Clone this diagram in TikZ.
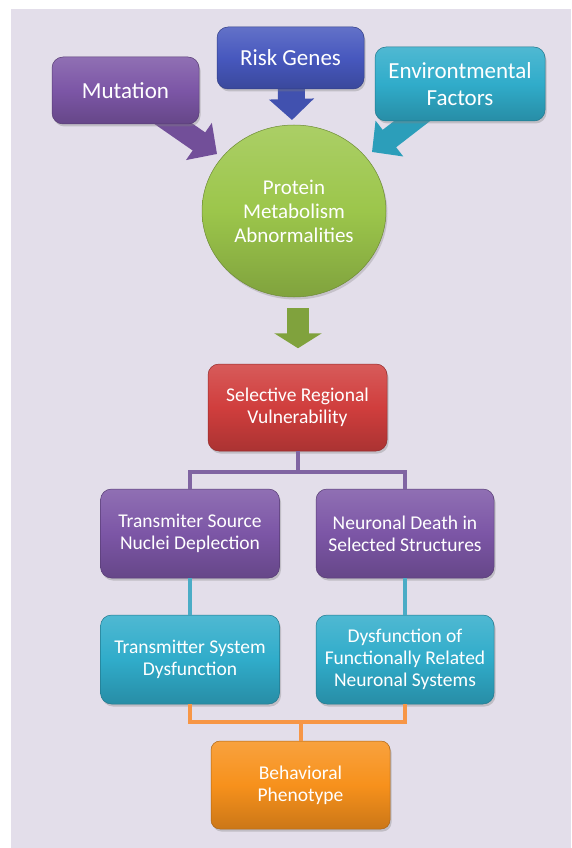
\documentclass[tikz,border=0pt]{standalone}
\usepackage{fontspec}
\setmainfont{Carlito}
\usetikzlibrary{shapes.geometric,arrows.meta,shadows,backgrounds}
\definecolor{bg}{HTML}{E3DEEA}
\definecolor{cpur}{HTML}{7C56A6}
\definecolor{cblue}{HTML}{4758BE}
\definecolor{ccyan}{HTML}{30ACCA}
\definecolor{cred}{HTML}{D03E3D}
\definecolor{cgreen}{HTML}{9CC64B}
\definecolor{corange}{HTML}{F7911C}
\definecolor{lpur}{HTML}{8064A2}
\definecolor{lcyan}{HTML}{4BACC6}
\definecolor{lorange}{HTML}{F79646}
\tikzset{
  glossy/.style={draw=#1!70!black, line width=0.5pt, top color=#1!85!white, bottom color=#1!82!black, middle color=#1},
  boxbase/.style={rectangle, rounded corners=11pt, align=center, text=white, inner sep=0pt,
    drop shadow={opacity=0.35, shadow xshift=1.5pt, shadow yshift=-2.5pt}},
  smallbox/.style={boxbase, glossy=#1, minimum width=179pt, minimum height=89pt,
    font=\fontsize{19.5pt}{22pt}\selectfont},
  topbox/.style={boxbase, glossy=#1, font=\fontsize{23pt}{27pt}\selectfont},
  fatarrow/.style={draw=#1, line width=22pt, -{Triangle[width=44pt,length=22pt]}},
  connector/.style={draw=#1, line width=4pt}
}
\begin{document}
\begin{tikzpicture}[x=1pt,y=-1pt]
\useasboundingbox (0,0) rectangle (571,848);
\begin{scope}[on background layer]
  \fill[bg] (11,9) rectangle (571,848);
\end{scope}

% top boxes
\node[topbox=cpur, minimum width=147pt, minimum height=67pt] (mut) at (125.5,90.5) {Mutation};
\node[topbox=cblue, minimum width=147pt, minimum height=62pt] (risk) at (290.5,58) {Risk Genes};
\node[topbox=ccyan, minimum width=170pt, minimum height=74pt] (env) at (460,84) {Environtmental\\Factors};

% central ellipse
\node[ellipse, glossy=cgreen, minimum width=184pt, minimum height=172pt, inner sep=0pt,
  align=center, text=white, font=\fontsize{21pt}{24pt}\selectfont,
  drop shadow={opacity=0.3, shadow xshift=1.5pt, shadow yshift=-2.5pt}] (circ) at (294,211)
  {Protein\\Metabolism\\Abnormalities};

\coordinate (mutT) at (217,154);
\coordinate (riskT) at (292,120);
\coordinate (envT) at (372,152);

\begin{scope}[on background layer]
  \draw[fatarrow=cpur!92!black] (mut.center) -- (mutT);
  \draw[draw=cblue!92!black, line width=27pt, -{Triangle[width=44pt,length=21pt]}] (risk.center) -- (riskT);
  \draw[fatarrow=ccyan!92!black] (env.center) -- (envT);
\end{scope}

% green arrow
\draw[draw=cgreen!82!black, line width=22pt, -{Triangle[width=47pt,length=15pt]}]
  ([xshift=4pt,yshift=-11pt]circ.south) -- ([xshift=4pt,yshift=-51pt]circ.south);

% lower boxes
\node[smallbox=cred, minimum height=87pt] (sel) at (297.5,407.5) {Selective Regional\\Vulnerability};
\node[smallbox=cpur] (tsn) at (190,533.5) {Transmiter Source\\Nuclei Deplection};
\node[smallbox=cpur, minimum width=178pt] (nds) at (405,533.5) {Neuronal Death in\\Selected Structures};
\node[smallbox=ccyan] (tsd) at (190,659.5) {Transmitter System\\Dysfunction};
\node[smallbox=ccyan, minimum width=178pt] (dfr) at (405,659.5) {Dysfunction of\\Functionally Related\\Neuronal Systems};
\node[smallbox=corange, rounded corners=9pt, minimum height=88pt] (beh) at (300.5,785) {Behavioral\\Phenotype};

% connectors
\draw[connector=lpur] (sel.south) -- ++(0,21) -| (tsn.north);
\draw[connector=lpur] (sel.south) -- ++(0,21) -| (nds.north);
\draw[connector=lcyan] (tsn.south) -- (tsd.north);
\draw[connector=lcyan] (nds.south) -- (dfr.north);
\draw[connector=lorange] (tsd.south) -- ++(0,18) -| (beh.north);
\draw[connector=lorange] (dfr.south) -- ++(0,18) -| (beh.north);
\end{tikzpicture}
\end{document}
